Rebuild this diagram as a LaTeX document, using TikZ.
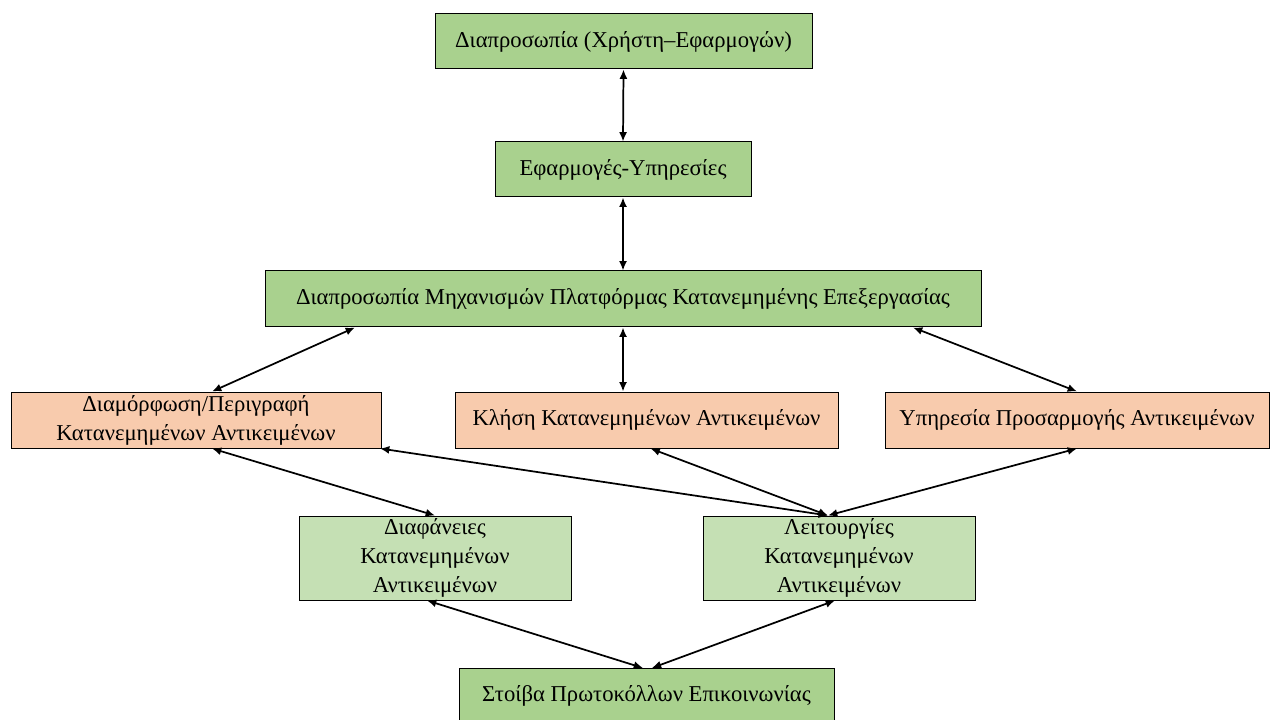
\documentclass[tikz,border=0pt]{standalone}
\usepackage{fontspec}
\setmainfont{Liberation Serif}
\usetikzlibrary{arrows.meta}
\definecolor{layergreen}{HTML}{A9D18E}
\definecolor{palegreen}{HTML}{C5E0B4}
\definecolor{peach}{HTML}{F8CBAD}
\begin{document}
\begin{tikzpicture}[x=0.75pt,y=-0.75pt,
  box/.style={draw=black, line width=0.75pt, inner sep=0pt, align=center,
    font=\fontsize{17}{21.75}\selectfont},
  gbox/.style={box, fill=layergreen},
  pbox/.style={box, fill=peach},
  lbox/.style={box, fill=palegreen},
  link/.style={line width=1.3pt, {Latex[length=7pt,width=6pt]}-{Latex[length=7pt,width=6pt]}}]
\useasboundingbox (0,0) rectangle (1271,720);
% layer boxes
\node[gbox, minimum width=282.75pt, minimum height=41.25pt] (ui) at (623.5,41.5) {Διαπροσωπία (Χρήστη–Εφαρμογών)};
\node[gbox, minimum width=192pt, minimum height=41.25pt] (apps) at (623,169.5) {Εφαρμογές-Υπηρεσίες};
\node[gbox, minimum width=537pt, minimum height=42pt] (plat) at (623,299) {Διαπροσωπία Μηχανισμών Πλατφόρμας Κατανεμημένης Επεξεργασίας};
\node[pbox, minimum width=277.5pt, minimum height=42pt] (cfg) at (196,420) {Διαμόρφωση/Περιγραφή\\Κατανεμημένων Αντικειμένων};
\node[pbox, minimum width=287.25pt, minimum height=42pt] (call) at (646.5,420) {Κλήση Κατανεμημένων Αντικειμένων};
\node[pbox, minimum width=288pt, minimum height=42pt] (adapt) at (1077,420) {Υπηρεσία Προσαρμογής Αντικειμένων};
\node[lbox, minimum width=204pt, minimum height=63pt] (trans) at (435,558) {Διαφάνειες\\Κατανεμημένων\\Αντικειμένων};
\node[lbox, minimum width=204pt, minimum height=63pt] (funcs) at (839,558) {Λειτουργίες\\Κατανεμημένων\\Αντικειμένων};
\node[gbox, minimum width=281.25pt, minimum height=41.25pt] (stack) at (646.5,696) {Στοίβα Πρωτοκόλλων Επικοινωνίας};
% meeting point above the functions box
\coordinate (fin) at ([xshift=-8.25pt]funcs.north);
% connectors
\draw[link] (ui.south) -- (apps.north);
\draw[link] (apps.south) -- (plat.north);
\draw[link] (plat.south) -- (plat.south |- call.north);
\draw[link] ([xshift=-201pt]plat.south) -- ([xshift=12pt]cfg.north);
\draw[link] ([xshift=217.5pt]plat.south) -- (adapt.north);
\draw[link] ([xshift=12pt]cfg.south) -- (trans.north);
\draw[link] ([xshift=138pt]cfg.south) -- (fin);
\draw[link] ([xshift=3pt]call.south) -- (fin);
\draw[link] (adapt.south) -- (fin);
\draw[link] ([xshift=-6pt]trans.south) -- ([xshift=-2.6pt]stack.north);
\draw[link] ([xshift=-3pt]funcs.south) -- ([xshift=4pt]stack.north);
\end{tikzpicture}
\end{document}
